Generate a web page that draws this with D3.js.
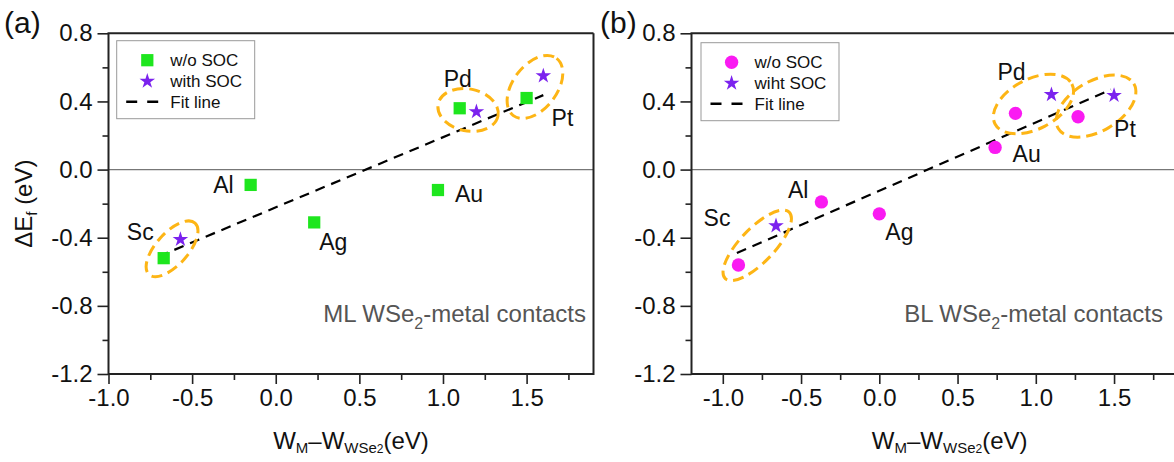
<!DOCTYPE html>
<html>
<head>
<meta charset="utf-8">
<script src="https://cdn.jsdelivr.net/npm/d3@7"></script>
<style>
body { margin: 0; background: #fff; }
svg { display: block; font-family: "Liberation Sans", Arial, sans-serif; }
</style>
</head>
<body>
<div id="chart"></div>
<script>
// values
var metals = ['Sc', 'Al', 'Ag', 'Au', 'Pd', 'Pt'];
var socMetals = ['Sc', 'Pd', 'Pt'];

// (a) ML WSe2
var mlNoSocX = [-0.67, -0.15, 0.23, 0.97, 1.10, 1.50];
var mlNoSocY = [-0.52, -0.09, -0.31, -0.12, 0.36, 0.42];
var mlSocX = [-0.57, 1.20, 1.60];
var mlSocY = [-0.41, 0.34, 0.55];
var mlFitX = [-0.70, 1.60];
var mlFitY = [-0.51, 0.437];

// (b) BL WSe2
var blNoSocX = [-0.90, -0.37, 0.00, 0.74, 0.87, 1.27];
var blNoSocY = [-0.56, -0.19, -0.26, 0.13, 0.33, 0.31];
var blSocX = [-0.66, 1.10, 1.50];
var blSocY = [-0.33, 0.44, 0.435];
var blFitX = [-0.91, 1.48];
var blFitY = [-0.49, 0.47];

var yMajor = [-1.2, -0.8, -0.4, 0.0, 0.4, 0.8];
var yMinor = [-1.0, -0.6, -0.2, 0.2, 0.6];
var xMajor = [-1.0, -0.5, 0.0, 0.5, 1.0, 1.5];
var xMinor = [-0.75, -0.25, 0.25, 0.75, 1.25, 1.75];

var COLORS = { square: '#1ee61e', circle: '#fa1af2', star: '#7b22ee', ring: '#fdb515', axis: '#222' };
var W = 1174, H = 462;
var TOP = 33.3, BOTTOM = 374;

var svg = d3.select('#chart').append('svg').attr('width', W).attr('height', H);

var fmt = function(d) { return d.toFixed(1); };

var panels = [
	{
		tag: '(a)', tagX: 4,
		xDomain: [-1.0, 1.9], xRange: [108.5, 593.5], frameRight: true,
		noSoc: metals.map(function(m, i) { return { m: m, x: mlNoSocX[i], y: mlNoSocY[i] }; }),
		soc: socMetals.map(function(m, i) { return { m: m, x: mlSocX[i], y: mlSocY[i] }; }),
		fit: mlFitX.map(function(v, i) { return [v, mlFitY[i]]; }),
		shape: d3.symbolSquare, shapeSize: 150, color: COLORS.square,
		legend: { x: 116.7, y: 40.7, labels: ['w/o SOC', 'with SOC', 'Fit line'] },
		note: { x: 586, text: 'ML WSe', rest: '-metal contacts' },
		labels: {
			Sc: ['end', -10, -18], Al: ['end', -17, 8], Ag: ['start', 5, 28],
			Au: ['start', 17, 12], Pd: ['start', -16, -21], Pt: ['start', 25, 28]
		},
		rings: { Sc: [22, 16], Pd: [22, 21], Pt: [22, 22] },
		yTitle: true
	},
	{
		tag: '(b)', tagX: 600,
		xDomain: [-1.2, 2.0], xRange: [691.5, 1192.3], frameRight: false,
		noSoc: metals.map(function(m, i) { return { m: m, x: blNoSocX[i], y: blNoSocY[i] }; }),
		soc: socMetals.map(function(m, i) { return { m: m, x: blSocX[i], y: blSocY[i] }; }),
		fit: blFitX.map(function(v, i) { return [v, blFitY[i]]; }),
		shape: d3.symbolCircle, shapeSize: 140, color: COLORS.circle,
		legend: { x: 701, y: 42.7, labels: ['w/o SOC', 'wiht SOC', 'Fit line'] },
		note: { x: 1163, text: 'BL WSe', rest: '-metal contacts' },
		labels: {
			Sc: ['end', -8, -39], Al: ['end', -13, -4], Ag: ['start', 6, 26],
			Au: ['start', 17.5, 15], Pd: ['start', -18, -33], Pt: ['start', 36, 20]
		},
		rings: { Sc: [19, 17], Pd: [23, 25], Pt: [23, 25] },
		yTitle: false
	}
];

function styleAxis(sel) {
	sel.select('.domain').remove();
	sel.selectAll('.tick line').attr('stroke', COLORS.axis).attr('stroke-width', 1.6);
	sel.selectAll('.tick text').attr('font-size', 24).attr('fill', '#111')
		.attr('font-family', '"Liberation Sans", Arial, sans-serif');
}

function drawPanel(p) {
	var x = d3.scaleLinear().domain(p.xDomain).range(p.xRange);
	var y = d3.scaleLinear().domain([-1.2, 0.8]).range([BOTTOM, TOP]);
	var g = svg.append('g');
	var x0 = p.xRange[0], x1 = p.xRange[1];

	// zero reference line
	g.append('line')
		.attr('x1', x0).attr('x2', x1).attr('y1', y(0)).attr('y2', y(0))
		.attr('stroke', '#777').attr('stroke-width', 1.2);

	// axes, major + minor
	g.append('g').attr('transform', 'translate(' + x0 + ',0)')
		.call(d3.axisLeft(y).tickValues(yMajor).tickSize(11).tickPadding(5).tickFormat(fmt)).call(styleAxis);
	g.append('g').attr('transform', 'translate(' + x0 + ',0)')
		.call(d3.axisLeft(y).tickValues(yMinor).tickSize(6).tickFormat('')).call(styleAxis);
	g.append('g').attr('transform', 'translate(0,' + BOTTOM + ')')
		.call(d3.axisBottom(x).tickValues(xMajor).tickSize(10).tickPadding(5).tickFormat(fmt)).call(styleAxis);
	g.append('g').attr('transform', 'translate(0,' + BOTTOM + ')')
		.call(d3.axisBottom(x).tickValues(xMinor).tickSize(6).tickFormat('')).call(styleAxis);

	// frame
	var frame = 'M' + x1 + ',' + TOP + 'H' + x0 + 'V' + BOTTOM + 'H' + x1;
	if (p.frameRight) frame += 'V' + TOP;
	g.append('path').attr('d', frame).attr('fill', 'none')
		.attr('stroke', COLORS.axis).attr('stroke-width', 2);

	// fit line
	g.append('path')
		.attr('d', d3.line().x(function(d) { return x(d[0]); }).y(function(d) { return y(d[1]); })(p.fit))
		.attr('fill', 'none').attr('stroke', '#000').attr('stroke-width', 2.2)
		.attr('stroke-dasharray', '10,7');

	// dashed rings around w/o and with SOC pairs
	p.soc.forEach(function(s) {
		var n = p.noSoc.find(function(d) { return d.m === s.m; });
		var ax = x(n.x), ay = y(n.y), bx = x(s.x), by = y(s.y);
		var cx = (ax + bx) / 2, cy = (ay + by) / 2;
		var dist = Math.hypot(bx - ax, by - ay);
		var ang = Math.atan2(by - ay, bx - ax) * 180 / Math.PI;
		var r = p.rings[s.m];
		g.append('ellipse')
			.attr('cx', cx).attr('cy', cy)
			.attr('rx', dist / 2 + r[0]).attr('ry', r[1])
			.attr('transform', 'rotate(' + ang + ',' + cx + ',' + cy + ')')
			.attr('fill', 'none').attr('stroke', COLORS.ring).attr('stroke-width', 3)
			.attr('stroke-dasharray', '11,6');
	});

	// markers
	g.selectAll('.nosoc').data(p.noSoc).enter().append('path')
		.attr('d', d3.symbol().type(p.shape).size(p.shapeSize))
		.attr('transform', function(d) { return 'translate(' + x(d.x) + ',' + y(d.y) + ')'; })
		.attr('fill', p.color);
	g.selectAll('.soc').data(p.soc).enter().append('path')
		.attr('d', d3.symbol().type(d3.symbolStar).size(75))
		.attr('transform', function(d) { return 'translate(' + x(d.x) + ',' + y(d.y) + ')'; })
		.attr('fill', COLORS.star);

	// metal labels
	g.selectAll('.lbl').data(p.noSoc).enter().append('text')
		.attr('x', function(d) { return x(d.x) + p.labels[d.m][1]; })
		.attr('y', function(d) { return y(d.y) + p.labels[d.m][2]; })
		.attr('text-anchor', function(d) { return p.labels[d.m][0]; })
		.attr('font-size', 23).attr('fill', '#111')
		.text(function(d) { return d.m; });

	// legend
	var L = p.legend;
	var lg = g.append('g').attr('transform', 'translate(' + L.x + ',' + L.y + ')');
	lg.append('rect').attr('width', 138).attr('height', 78)
		.attr('fill', '#fff').attr('stroke', '#999').attr('stroke-width', 1);
	lg.append('path').attr('d', d3.symbol().type(p.shape).size(p.shapeSize)())
		.attr('transform', 'translate(30.6,19.5)').attr('fill', p.color);
	lg.append('path').attr('d', d3.symbol().type(d3.symbolStar).size(75)())
		.attr('transform', 'translate(30.6,40.5)').attr('fill', COLORS.star);
	lg.append('line').attr('x1', 9.5).attr('x2', 42.5).attr('y1', 61).attr('y2', 61)
		.attr('stroke', '#000').attr('stroke-width', 2.4).attr('stroke-dasharray', '11,10');
	lg.selectAll('.lt').data(L.labels).enter().append('text')
		.attr('x', 53.6).attr('y', function(d, i) { return 19.5 + i * 20.8; })
		.attr('dy', '0.35em').attr('font-size', 17).attr('fill', '#111')
		.text(function(d) { return d; });

	// contact note
	var note = g.append('text').attr('x', p.note.x).attr('y', 322)
		.attr('text-anchor', 'end').attr('font-size', 24).attr('fill', '#555');
	note.append('tspan').text(p.note.text);
	note.append('tspan').attr('font-size', 16).attr('dy', 7).text('2');
	note.append('tspan').attr('dy', -7).text(p.note.rest);

	// x title
	var xt = g.append('text').attr('x', x(0.45)).attr('y', 449)
		.attr('text-anchor', 'middle').attr('font-size', 24).attr('fill', '#111');
	xt.append('tspan').text('W');
	xt.append('tspan').attr('font-size', 15).attr('dy', 4).text('M');
	xt.append('tspan').attr('dy', -4).text('\u2013W');
	xt.append('tspan').attr('font-size', 15).attr('dy', 4).text('WSe');
	xt.append('tspan').attr('font-size', 12).text('2');
	xt.append('tspan').attr('dy', -4).text('(eV)');

	// y title
	if (p.yTitle) {
		var yt = g.append('text')
			.attr('transform', 'translate(32,' + ((TOP + BOTTOM) / 2) + ') rotate(-90)')
			.attr('text-anchor', 'middle').attr('font-size', 24).attr('fill', '#111');
		yt.append('tspan').text('\u0394E');
		yt.append('tspan').attr('font-size', 15).attr('dy', 5).text('f');
		yt.append('tspan').attr('dy', -5).text(' (eV)');
	}

	// panel tag
	svg.append('text').attr('x', p.tagX).attr('y', 33).attr('font-size', 30)
		.attr('fill', '#111').text(p.tag);
}

panels.forEach(drawPanel);
</script>
</body>
</html>
